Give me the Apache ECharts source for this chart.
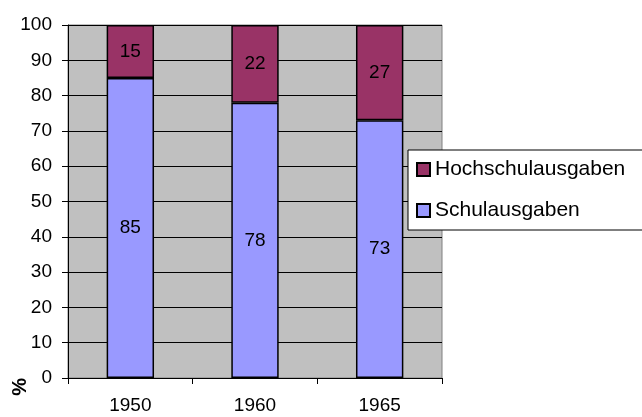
<!DOCTYPE html>
<html>
<head>
<meta charset="utf-8">
<script src="https://cdn.jsdelivr.net/npm/echarts@6/dist/echarts.min.js"></script>
<style>
  html, body { margin: 0; padding: 0; background: #ffffff; }
  #chart { width: 642px; height: 417px; }
</style>
</head>
<body>
<div id="chart"></div>
<script>
var years = ["1950", "1960", "1965"];
var schulData = [85, 78, 73];
var hochschulData = [15, 22, 27];

var chart = echarts.init(document.getElementById("chart"));
var font = "Liberation Sans, Arial, sans-serif";

chart.setOption({
  animation: false,
  textStyle: { fontFamily: font },
  grid: {
    left: 68,
    right: 200,
    top: 25,
    bottom: 39,
    show: true,
    backgroundColor: "#c0c0c0",
    borderColor: "#808080",
    borderWidth: 1
  },
  legend: {
    orient: "vertical",
    left: 408,
    top: 150,
    padding: [9, 60, 9, 8],
    itemGap: 20,
    itemWidth: 13,
    itemHeight: 13,
    itemTextGap: 6,
    backgroundColor: "#ffffff",
    borderColor: "#000000",
    borderWidth: 1,
    textStyle: { fontSize: 21, color: "#000000", fontFamily: font, lineHeight: 20 },
    data: [
      { name: "Hochschulausgaben", icon: "rect" },
      { name: "Schulausgaben", icon: "rect" }
    ]
  },
  xAxis: {
    type: "category",
    data: years,
    axisLine: { lineStyle: { color: "#000000", width: 1 } },
    axisTick: { show: true, length: 6, lineStyle: { color: "#000000" } },
    axisLabel: { fontSize: 19, color: "#000000", margin: 18, fontFamily: font },
    splitLine: { show: false }
  },
  yAxis: {
    type: "value",
    min: 0,
    max: 100,
    interval: 10,
    axisLine: { show: true, lineStyle: { color: "#000000", width: 1 } },
    axisTick: { show: true, length: 6, lineStyle: { color: "#000000" } },
    axisLabel: { fontSize: 19, color: "#000000", margin: 16, fontFamily: font },
    splitLine: { show: true, lineStyle: { color: "#000000", width: 1 } }
  },
  graphic: [
    {
      type: "text",
      left: 10,
      top: 378,
      rotation: Math.PI / 2,
      style: { text: "%", fontSize: 20, fontWeight: "bold", fill: "#000000", fontFamily: font }
    }
  ],
  series: [
    {
      name: "Schulausgaben",
      type: "bar",
      stack: "total",
      barWidth: "38%",
      itemStyle: { color: "#9999ff", borderColor: "#000000", borderWidth: 1.5 },
      label: { show: true, position: "inside", fontSize: 19, color: "#000000", fontFamily: font },
      data: schulData
    },
    {
      name: "Hochschulausgaben",
      type: "bar",
      stack: "total",
      barWidth: "38%",
      itemStyle: { color: "#993366", borderColor: "#000000", borderWidth: 1.5 },
      label: { show: true, position: "inside", fontSize: 19, color: "#000000", fontFamily: font },
      data: hochschulData
    }
  ]
});
</script>
</body>
</html>
